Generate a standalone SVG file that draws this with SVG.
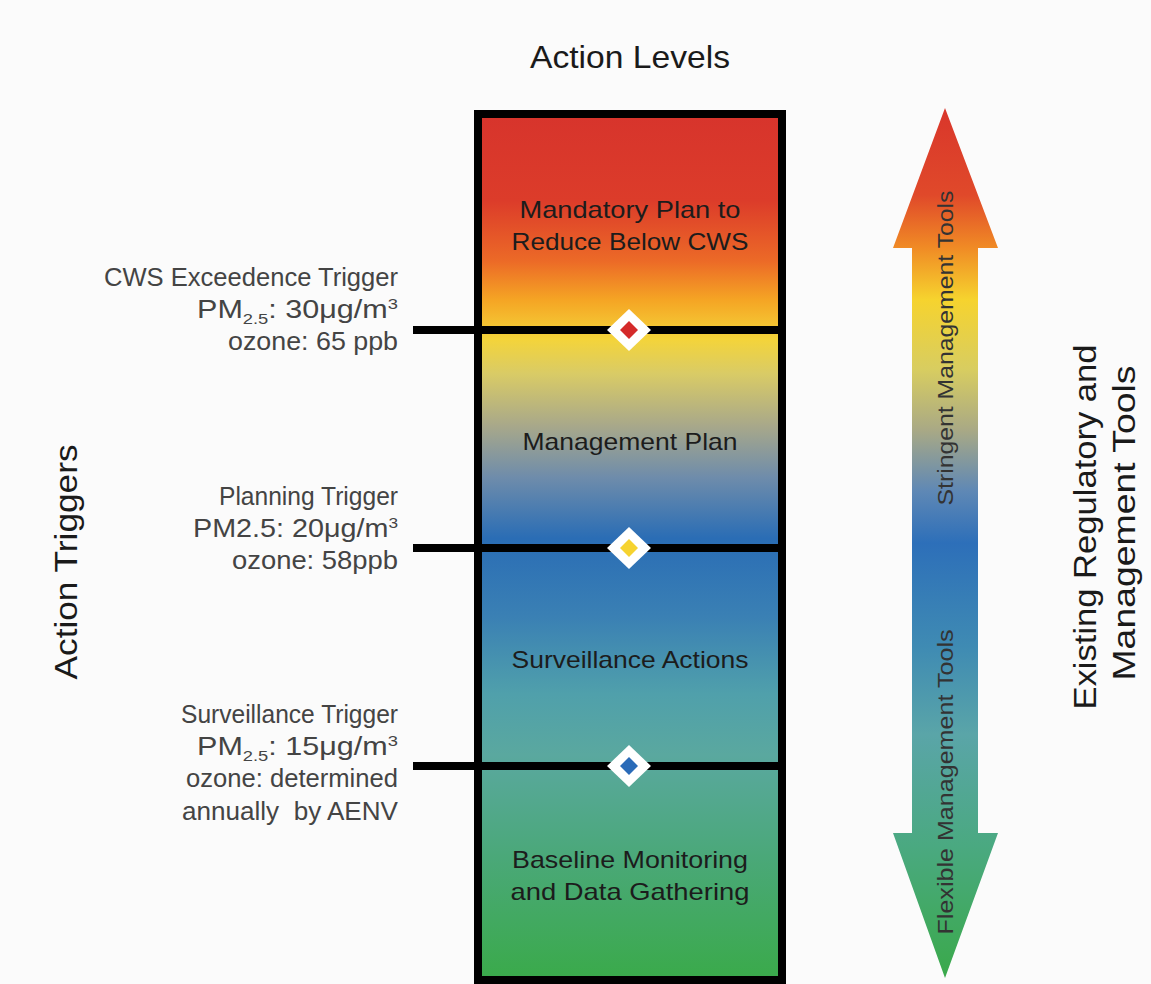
<svg xmlns="http://www.w3.org/2000/svg" width="1151" height="984" viewBox="0 0 1151 984">
<defs>
<linearGradient id="boxGrad" x1="0" y1="0" x2="0" y2="1">
<stop offset="0" stop-color="#d7342c"/>
<stop offset="0.1" stop-color="#dc3c2a"/>
<stop offset="0.17" stop-color="#ec6a27"/>
<stop offset="0.215" stop-color="#f5a524"/>
<stop offset="0.26" stop-color="#f4d43a"/>
<stop offset="0.30" stop-color="#d9cb66"/>
<stop offset="0.36" stop-color="#a8a88a"/>
<stop offset="0.42" stop-color="#6e8cab"/>
<stop offset="0.49" stop-color="#2a6db5"/>
<stop offset="0.58" stop-color="#3a80b4"/>
<stop offset="0.67" stop-color="#50a0ab"/>
<stop offset="0.74" stop-color="#5aa89f"/>
<stop offset="0.86" stop-color="#4aa878"/>
<stop offset="1" stop-color="#3aaa4a"/>
</linearGradient>
<linearGradient id="arrowGrad" x1="0" y1="0" x2="0" y2="1">
<stop offset="0" stop-color="#d9362b"/>
<stop offset="0.1" stop-color="#e0492a"/>
<stop offset="0.16" stop-color="#f08a25"/>
<stop offset="0.22" stop-color="#f6d32e"/>
<stop offset="0.3" stop-color="#d8cd60"/>
<stop offset="0.37" stop-color="#a9a985"/>
<stop offset="0.44" stop-color="#5f88b5"/>
<stop offset="0.5" stop-color="#2d6fb9"/>
<stop offset="0.62" stop-color="#3f8bb3"/>
<stop offset="0.72" stop-color="#5aa5a8"/>
<stop offset="0.85" stop-color="#4aa980"/>
<stop offset="1" stop-color="#3aa94a"/>
</linearGradient>
<style>
text { font-family: "Liberation Sans", "DejaVu Sans", sans-serif; }
.title { font-size: 32px; fill: #1a1a1a; }
.side { font-size: 25px; fill: #444; text-anchor: end; }
.lvl { font-size: 24px; fill: #1c1c1c; text-anchor: middle; }
.arr { font-size: 22px; fill: #333; text-anchor: middle; }
.sub { font-size: 15px; }
.line { stroke: #000; stroke-width: 8; fill: none; }
.dmW { fill: #fff; }
</style>
</defs>
<rect width="1151" height="984" fill="#fbfbfb"/>

<g id="title-action-levels">
<text class="title" x="630" y="68" text-anchor="middle" textLength="200" lengthAdjust="spacingAndGlyphs">Action Levels</text>
</g>
<g id="title-action-triggers">
<text class="title" text-anchor="middle" transform="translate(77,562) rotate(-90)" textLength="235" lengthAdjust="spacingAndGlyphs">Action Triggers</text>
</g>
<g id="title-existing-tools">
<text class="title" text-anchor="middle" transform="translate(1096,527) rotate(-90)" textLength="365" lengthAdjust="spacingAndGlyphs">Existing Regulatory and</text>
<text class="title" text-anchor="middle" transform="translate(1135,523) rotate(-90)" textLength="315" lengthAdjust="spacingAndGlyphs">Management Tools</text>
</g>

<g id="levels-box">
<rect x="478" y="114" width="304" height="866" fill="url(#boxGrad)" stroke="#000" stroke-width="8"/>
<text class="lvl" x="630" y="218" textLength="221" lengthAdjust="spacingAndGlyphs">Mandatory Plan to</text>
<text class="lvl" x="630" y="250" textLength="237" lengthAdjust="spacingAndGlyphs">Reduce Below CWS</text>
<text class="lvl" x="630" y="450" textLength="215" lengthAdjust="spacingAndGlyphs">Management Plan</text>
<text class="lvl" x="630" y="668" textLength="237" lengthAdjust="spacingAndGlyphs">Surveillance Actions</text>
<text class="lvl" x="630" y="868" textLength="236" lengthAdjust="spacingAndGlyphs">Baseline Monitoring</text>
<text class="lvl" x="630" y="900" textLength="239" lengthAdjust="spacingAndGlyphs">and Data Gathering</text>
</g>

<g id="connectors">
<line class="line" x1="413" y1="330" x2="782" y2="330"/>
<line class="line" x1="413" y1="548" x2="782" y2="548"/>
<line class="line" x1="413" y1="766" x2="782" y2="766"/>
</g>

<g id="trigger-cws">
<text class="side" x="398" y="286" textLength="294" lengthAdjust="spacingAndGlyphs">CWS Exceedence Trigger</text>
<text class="side" x="398" y="318" textLength="201" lengthAdjust="spacingAndGlyphs">PM<tspan class="sub" dy="6">2.5</tspan><tspan dy="-6">: 30μg/m</tspan><tspan class="sub" dy="-9">3</tspan></text>
<text class="side" x="398" y="350" textLength="170" lengthAdjust="spacingAndGlyphs">ozone: 65 ppb</text>
<polygon class="dmW" points="629,309 651,330 629,351 607,330"/>
<polygon fill="#d42a2a" points="629,321 638,330 629,339 620,330"/>
</g>

<g id="trigger-planning">
<text class="side" x="398" y="505" textLength="179" lengthAdjust="spacingAndGlyphs">Planning Trigger</text>
<text class="side" x="398" y="537" textLength="205" lengthAdjust="spacingAndGlyphs">PM2.5: 20μg/m<tspan class="sub" dy="-9">3</tspan></text>
<text class="side" x="398" y="569" textLength="166" lengthAdjust="spacingAndGlyphs">ozone: 58ppb</text>
<polygon class="dmW" points="629,527 651,548 629,569 607,548"/>
<polygon fill="#f6d330" points="629,539 638,548 629,557 620,548"/>
</g>

<g id="trigger-surveillance">
<text class="side" x="398" y="723" textLength="217" lengthAdjust="spacingAndGlyphs">Surveillance Trigger</text>
<text class="side" x="398" y="755" textLength="201" lengthAdjust="spacingAndGlyphs">PM<tspan class="sub" dy="6">2.5</tspan><tspan dy="-6">: 15μg/m</tspan><tspan class="sub" dy="-9">3</tspan></text>
<text class="side" x="398" y="787" textLength="212" lengthAdjust="spacingAndGlyphs">ozone: determined</text>
<text class="side" x="398" y="820" xml:space="preserve" textLength="216" lengthAdjust="spacingAndGlyphs">annually  by AENV</text>
<polygon class="dmW" points="629,745 651,766 629,787 607,766"/>
<polygon fill="#2a6bb8" points="629,757 638,766 629,775 620,766"/>
</g>

<g id="tools-arrow">
<path d="M945,108 L998,248 L978,248 L978,833 L998,833 L945,978 L893,833 L912,833 L912,248 L893,248 Z" fill="url(#arrowGrad)"/>
<text class="arr" transform="translate(953,348) rotate(-90)" textLength="315" lengthAdjust="spacingAndGlyphs">Stringent Management Tools</text>
<text class="arr" transform="translate(953,782) rotate(-90)" textLength="305" lengthAdjust="spacingAndGlyphs">Flexible Management Tools</text>
</g>
</svg>
